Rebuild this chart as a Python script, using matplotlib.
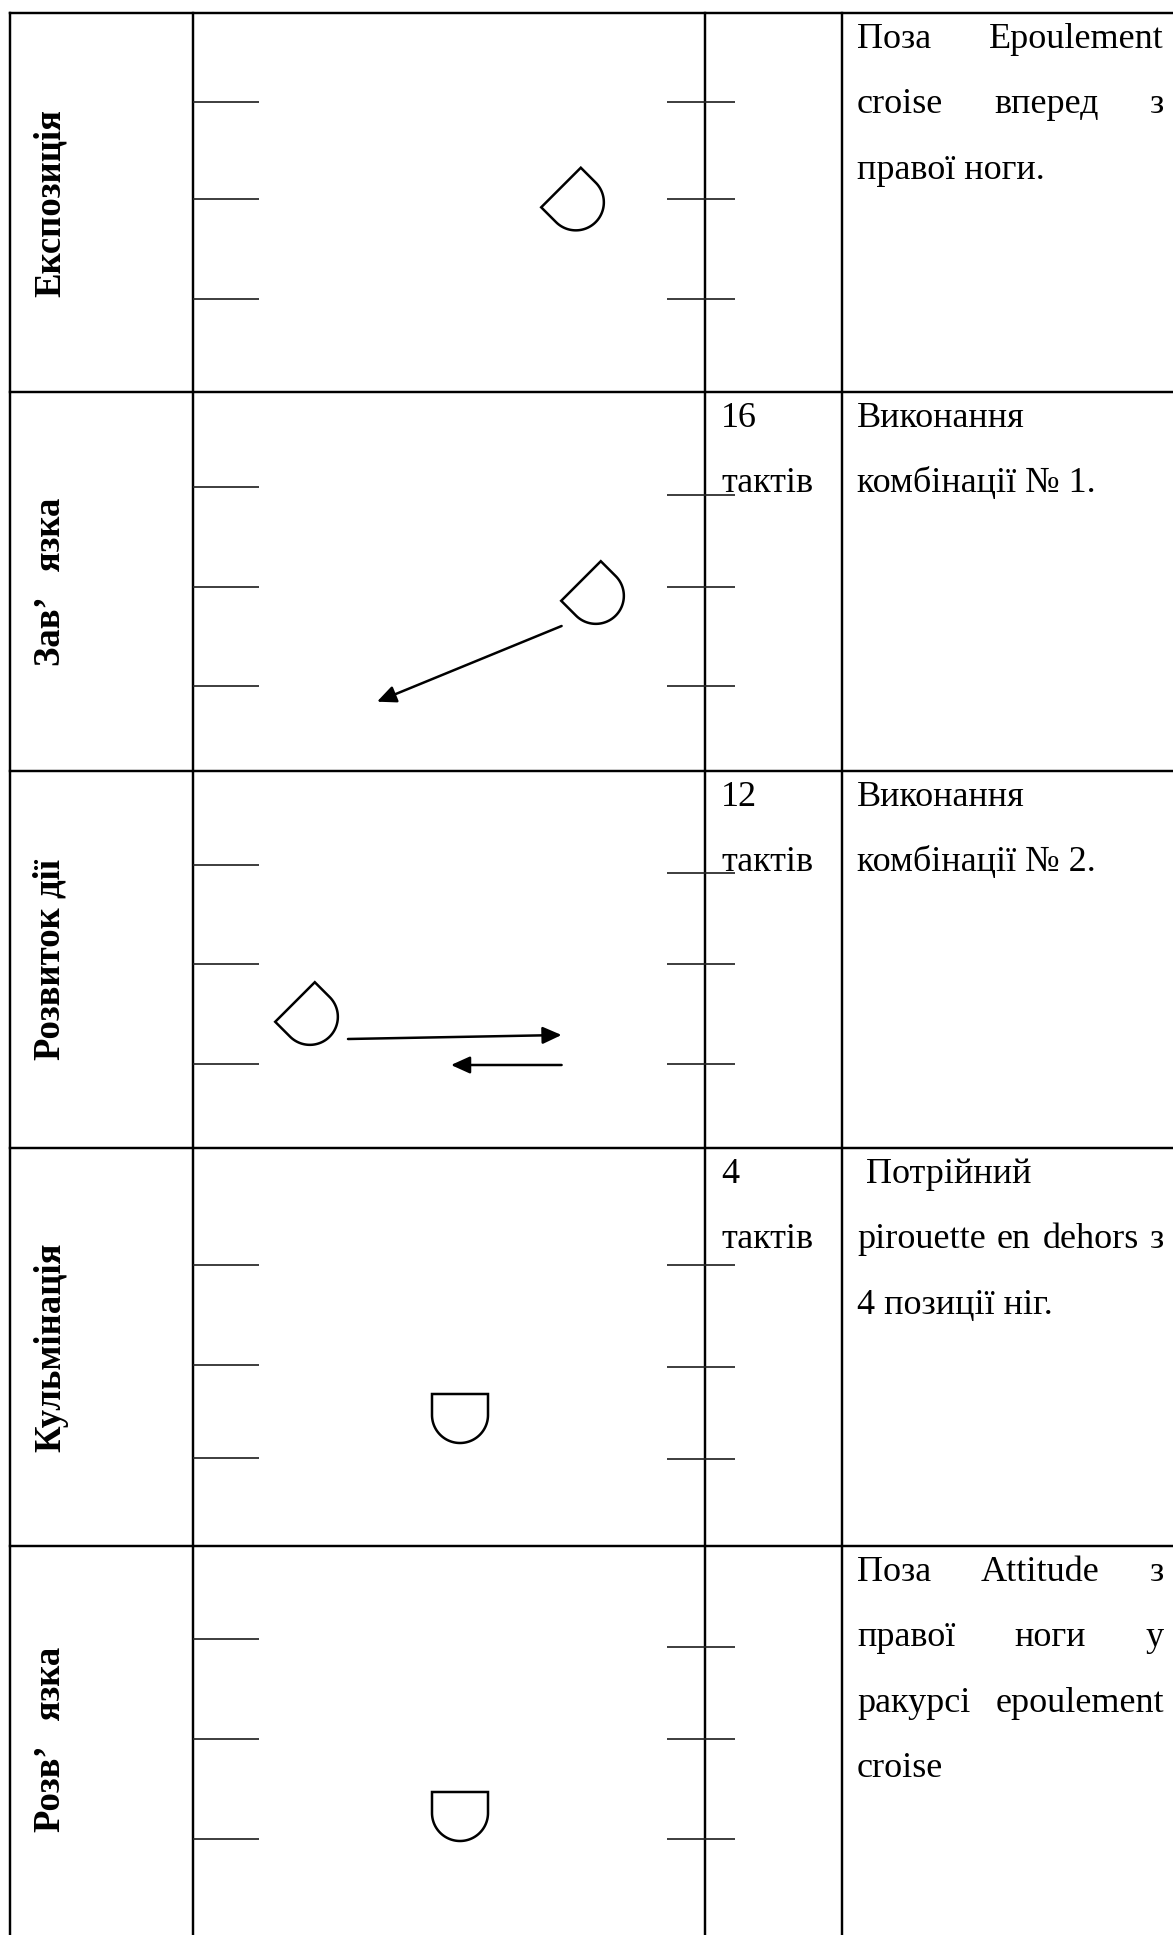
import matplotlib
matplotlib.use('Agg')
import matplotlib.pyplot as plt
import numpy as np
from matplotlib.patches import Polygon

plt.rcParams['font.family'] = ['Liberation Serif', 'DejaVu Serif']

W, H = 1173, 1935

# ---------------- data ----------------
phases = ["Експозиція", "Зав’   язка", "Розвиток дії", "Кульмінація", "Розв’   язка"]
measures = [[], ["16", "тактів"], ["12", "тактів"], ["4", "тактів"], []]
descriptions = [
    ["Поза Epoulement", "croise вперед з", "правої ноги."],
    ["Виконання", "комбінації № 1."],
    ["Виконання", "комбінації № 2."],
    [" Потрійний", "pirouette en dehors з", "4 позиції ніг."],
    ["Поза Attitude з", "правої ноги у", "ракурсі epoulement", "croise"],
]
justified = [
    [True, True, False],
    [False, False],
    [False, False],
    [False, True, False],
    [True, True, True, False],
]

# table geometry (pixel coordinates of the source page)
row_edges = [13, 392, 771, 1148, 1546]
col_edges = [10, 193, 704.5, 841.5]

# stage wing marks (y positions) on left and right side of stage cell
left_marks = [[102, 199, 299], [487, 587, 686], [865, 964, 1064],
              [1265, 1365, 1458], [1639, 1739, 1839]]
right_marks = [[102, 199, 299], [495, 587, 686], [873, 964, 1064],
               [1265, 1367, 1459], [1647, 1739, 1839]]

# dancer symbol: midpoint of flat edge and rotation (degrees)
dancer_x = [561, 581, 295, 460, 460]
dancer_y = [187.5, 581, 1002, 1394, 1792]
dancer_angle = [-45, -45, -45, 0, 0]

# movement arrows
arrow_x0 = [561.6, 348, 561.6]
arrow_y0 = [626, 1039, 1065]
arrow_x1 = [377, 561.6, 451]
arrow_y1 = [701.7, 1035, 1065]

# ---------------- drawing ----------------
fig = plt.figure(figsize=(W / 100, H / 100), dpi=100)
ax = fig.add_axes([0, 0, 1, 1])
ax.set_xlim(0, W)
ax.set_ylim(H, 0)
ax.axis('off')

LW = 1.75
# grid
for y in row_edges:
    ax.plot([col_edges[0], W], [y, y], color='black', lw=LW, solid_capstyle='projecting')
for x in col_edges:
    ax.plot([x, x], [row_edges[0], H], color='black', lw=LW, solid_capstyle='projecting')

# wing marks
for lm, rm in zip(left_marks, right_marks):
    for y in lm:
        ax.plot([193, 259], [y, y], color='#262626', lw=1.25, solid_capstyle='butt')
    for y in rm:
        ax.plot([667, 735], [y, y], color='#262626', lw=1.25, solid_capstyle='butt')


def dancer(cx, cy, ang, r=28, s=21):
    th = np.linspace(0, np.pi, 80)
    arc = np.column_stack([r * np.cos(th), s + r * np.sin(th)])
    pts = np.vstack([[[-r, 0], [r, 0], [r, s]], arc])
    a = np.radians(ang)
    xr = pts[:, 0] * np.cos(a) - pts[:, 1] * np.sin(a) + cx
    yr = pts[:, 0] * np.sin(a) + pts[:, 1] * np.cos(a) + cy
    ax.add_patch(Polygon(np.column_stack([xr, yr]), closed=True, fill=False,
                         edgecolor='black', lw=1.8, joinstyle='miter'))


for x, y, a in zip(dancer_x, dancer_y, dancer_angle):
    dancer(x, y, a)

for x0, y0, x1, y1 in zip(arrow_x0, arrow_y0, arrow_x1, arrow_y1):
    ax.annotate('', xy=(x1, y1), xytext=(x0, y0),
                arrowprops=dict(arrowstyle='-|>,head_length=1.15,head_width=0.52',
                                lw=1.8, color='black', shrinkA=0, shrinkB=0,
                                mutation_scale=10))

FS = 26
LINE = 65.5
FIRST = 34.5
renderer = fig.canvas.get_renderer()

# phase labels
for i, ph in enumerate(phases):
    top = row_edges[i]
    bot = row_edges[i + 1] if i + 1 < len(row_edges) else 1932
    ax.text(60, (top + bot) / 2, ph, rotation=90, rotation_mode='anchor',
            ha='center', va='baseline', fontsize=26.5, fontweight='bold')

# measures column
for i, lines in enumerate(measures):
    for k, ln in enumerate(lines):
        ax.text(721, row_edges[i] + FIRST + k * LINE, ln, ha='left', va='baseline', fontsize=FS)

# description column
XL, XR = 857, 1164
for i, lines in enumerate(descriptions):
    for k, ln in enumerate(lines):
        yb = row_edges[i] + FIRST + k * LINE
        words = ln.split()
        if justified[i][k] and len(words) > 1:
            ts = [ax.text(0, yb, w, ha='left', va='baseline', fontsize=FS) for w in words]
            widths = [t.get_window_extent(renderer=renderer).width for t in ts]
            gap = (XR - XL - sum(widths)) / (len(words) - 1)
            x = XL
            for t, w in zip(ts, widths):
                t.set_x(x)
                x += w + gap
        else:
            ax.text(XL, yb, ln, ha='left', va='baseline', fontsize=FS)

fig.savefig('out.png', dpi=100)
